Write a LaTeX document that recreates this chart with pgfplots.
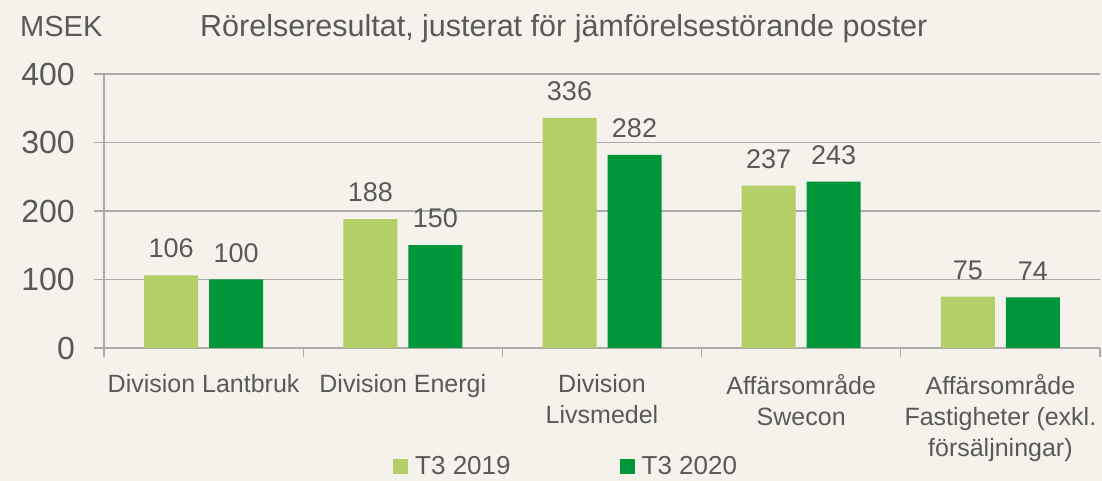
\documentclass[border=0pt]{standalone}
\usepackage{pgfplots}
\pgfplotsset{compat=1.18}
\usepackage{fontspec}
\setmainfont{Liberation Sans}
\definecolor{bg}{HTML}{F5F1EB}
\definecolor{lg}{HTML}{B4CE68}
\definecolor{dg}{HTML}{00963A}
\definecolor{tx}{HTML}{595959}
\definecolor{gr}{HTML}{ABABAB}
\begin{document}
\begin{tikzpicture}
\fill[bg] (-104pt,-133pt) rectangle (998pt,348pt);
\begin{axis}[
  at={(0pt,0pt)}, anchor=south west,
  scale only axis, width=996pt, height=274pt,
  xmin=-0.5, xmax=4.5, ymin=0, ymax=400,
  axis x line=bottom, axis y line=left,
  axis line style={gr, line width=1.2pt, -},
  ytick={0,100,200,300,400},
  ymajorgrids, grid style={gr, line width=1.2pt},
  tick align=outside,
  major tick length=10pt, minor tick length=9pt,
  ytick style={gr, line width=1.2pt},
  xtick={0,1,2,3,4},
  major x tick style={draw=none},
  minor xtick={-0.5,0.5,1.5,2.5,3.5,4.5},
  minor x tick style={gr, line width=1.2pt},
  xticklabels={{Division Lantbruk},{Division Energi},{Division\\Livsmedel},{Affärsområde\\Swecon},{Affärsområde\\Fastigheter (exkl.\\försäljningar)}},
  xticklabel style={anchor=north, inner sep=0pt, yshift=-16pt, align=center, font=\fontsize{25}{31}\selectfont, text=tx},
  yticklabel style={anchor=east, inner sep=0pt, xshift=-19pt, font=\fontsize{32}{36}\selectfont, text=tx},
  /pgf/number format/assume math mode=true,
  ybar=11pt, bar width=54pt,
  nodes near coords,
  every node near coord/.append style={font=\fontsize{27}{30}\selectfont, text=tx, inner sep=0pt, yshift=17pt},
  legend columns=2,
  legend style={at={(0.2902,-0.4325)}, anchor=west, draw=none, fill=none, inner sep=0pt,
    font=\fontsize{26}{30}\selectfont, text=tx,
    /tikz/every odd column/.append style={column sep=5pt},
    /tikz/every even column/.append style={column sep=107pt}},
  legend image code/.code={\fill[#1] (0pt,-7.5pt) rectangle (15pt,7.5pt);},
]
\addplot[fill=lg, draw=none] coordinates {(0,106) (1,188) (2,336) (3,237) (4,75)};
\addplot[fill=dg, draw=none] coordinates {(0,100) (1,150) (2,282) (3,243) (4,74)};
\legend{T3 2019, T3 2020}
\end{axis}
\node[anchor=base west, inner sep=0pt, font=\fontsize{29}{34}\selectfont, text=tx] at (-84pt,311pt) {MSEK};
\node[anchor=base west, inner sep=0pt, font=\fontsize{30.5}{34}\selectfont, text=tx] at (96pt,311pt) {Rörelseresultat, justerat för jämförelsestörande poster};
\pgfresetboundingbox
\path (-104pt,-133pt) rectangle (998pt,348pt);
\end{tikzpicture}
\end{document}
